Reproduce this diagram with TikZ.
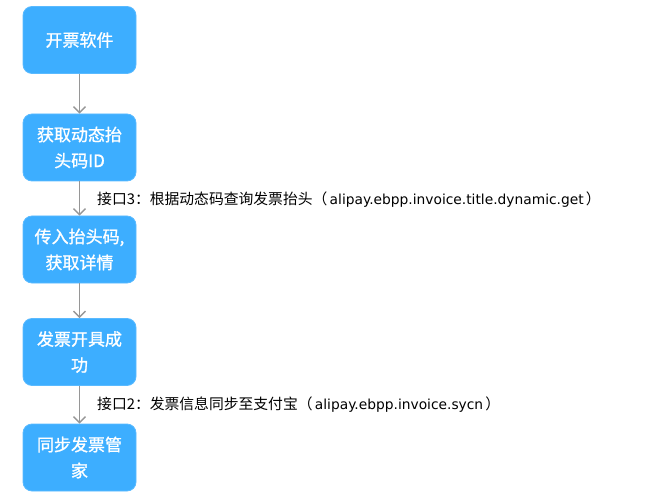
\documentclass[tikz,border=0pt]{standalone}
\usepackage{fontspec}
\setmainfont{Noto Sans CJK SC}
\newfontfamily\boxfont[FakeBold=1.2]{Noto Sans CJK SC}
\newfontfamily\latinfont{DejaVu Sans}
\usetikzlibrary{arrows.meta}
\definecolor{boxblue}{RGB}{61,174,255}
\definecolor{arrowgray}{RGB}{150,150,150}
\newcommand{\lat}[1]{{\latinfont\fontsize{13.8}{15}\selectfont\,#1\,}}
\begin{document}
\begin{tikzpicture}[x=1pt,y=-1pt,
  stepbox/.style={draw=boxblue!85!white, line width=0.8pt, fill=boxblue, rounded corners=9pt,
    minimum width=113pt, minimum height=67pt, text=white, align=center,
    font=\boxfont\fontsize{17}{26}\selectfont, inner sep=2pt},
  flow/.style={draw=arrowgray, line width=1.4pt, -{Straight Barb[length=6pt,width=12pt,line width=1.4pt]}},
  apilabel/.style={anchor=west, font=\fontsize{14.8}{16}\selectfont, inner sep=0pt}]
\useasboundingbox (0,0) rectangle (650,494);
\node[stepbox] (s1) at (79.5,40) {开票软件};
\node[stepbox] (s2) at (79.5,147.5) {获取动态抬\\头码ID};
\node[stepbox] (s3) at (79.5,249.5) {传入抬头码,\\获取详情};
\node[stepbox] (s4) at (79.5,352) {发票开具成\\功};
\node[stepbox] (s5) at (79.5,457.5) {同步发票管\\家};
\draw[flow] (s1) -- (s2);
\draw[flow] (s2) -- (s3);
\draw[flow] (s3) -- (s4);
\draw[flow] (s4) -- (s5);
\node[apilabel] (l3) at (97,200) {接口3：根据动态码查询发票抬头（\lat{alipay.ebpp.invoice.title.dynamic.get}）};
\node[apilabel] (l2) at (97,405) {接口2：发票信息同步至支付宝（\lat{alipay.ebpp.invoice.sycn}）};
\end{tikzpicture}
\end{document}
